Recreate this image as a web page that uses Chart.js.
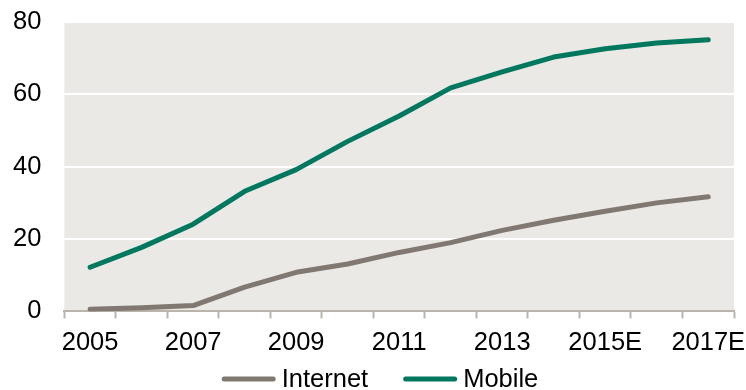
<!DOCTYPE html>
<html>
<head>
<meta charset="utf-8">
<script src="https://cdn.jsdelivr.net/npm/chart.js@4/dist/chart.umd.min.js"></script>
<style>
  html, body { margin: 0; padding: 0; background: #ffffff; }
  #wrap { width: 746px; height: 390px; position: relative; }
</style>
</head>
<body>
<div id="wrap"><canvas id="c" width="746" height="390"></canvas></div>
<script>
// Years on the x axis (estimates marked with E)
const categories = ['2005', '2006', '2007', '2008', '2009', '2010', '2011',
                    '2012', '2013', '2014', '2015E', '2016E', '2017E'];
// Only every other year gets a label
const shownLabels = ['2005', '2007', '2009', '2011', '2013', '2015E', '2017E'];
const yTicks = [0, 20, 40, 60, 80];

const internetValues = [0.6, 1.0, 1.6, 6.7, 10.8, 13.1, 16.3, 19.0, 22.4, 25.2, 27.7, 30.0, 31.7];
const mobileValues   = [12.2, 17.7, 24.1, 33.2, 39.2, 47.0, 54.0, 61.8, 66.2, 70.3, 72.6, 74.2, 75.1];

const FONT = '"Liberation Sans", Arial, sans-serif';
const FONT_SIZE = 25.5;

// Plot area background
const plotBackground = {
  id: 'plotBackground',
  beforeDraw(chart) {
    const { ctx, chartArea: a } = chart;
    ctx.save();
    ctx.fillStyle = '#ebe9e5';
    ctx.fillRect(a.left, a.top, a.right - a.left, a.bottom - a.top);
    ctx.restore();
  }
};

// Compact legend below the axis: a short thick line followed by the series name
const lineLegend = {
  id: 'lineLegend',
  afterDraw(chart) {
    const { ctx } = chart;
    const lineW = 54, textGap = 6, itemGap = 35, y = 379;
    ctx.save();
    ctx.font = FONT_SIZE + 'px ' + FONT;
    const items = chart.data.datasets.map(ds => ({
      label: ds.label, color: ds.borderColor, w: ctx.measureText(ds.label).width
    }));
    let total = 0;
    items.forEach((it, i) => { total += lineW + textGap + it.w + (i ? itemGap : 0); });
    let x = 380 - total / 2;
    items.forEach((it, i) => {
      if (i) x += itemGap;
      ctx.strokeStyle = it.color;
      ctx.lineWidth = 5;
      ctx.lineCap = 'round';
      ctx.beginPath();
      ctx.moveTo(x + 2.5, y);
      ctx.lineTo(x + lineW - 2.5, y);
      ctx.stroke();
      x += lineW + textGap;
      ctx.fillStyle = '#000000';
      ctx.textBaseline = 'middle';
      ctx.textAlign = 'left';
      ctx.fillText(it.label, x, y + 1);
      x += it.w;
    });
    ctx.restore();
  }
};

new Chart(document.getElementById('c'), {
  type: 'line',
  data: {
    labels: categories,
    datasets: [
      {
        label: 'Internet',
        data: internetValues,
        borderColor: '#807871',
        backgroundColor: '#807871',
        borderWidth: 5,
        borderCapStyle: 'round',
        borderJoinStyle: 'round',
        pointRadius: 0,
        tension: 0
      },
      {
        label: 'Mobile',
        data: mobileValues,
        borderColor: '#00785f',
        backgroundColor: '#00785f',
        borderWidth: 5,
        borderCapStyle: 'round',
        borderJoinStyle: 'round',
        pointRadius: 0,
        tension: 0
      }
    ]
  },
  options: {
    responsive: false,
    animation: false,
    devicePixelRatio: 1,
    layout: { padding: { left: -10, right: 12, top: 22, bottom: 23 } },
    plugins: {
      legend: { display: false },
      tooltip: { enabled: false }
    },
    scales: {
      x: {
        type: 'category',
        offset: true,
        // labels may run past the plot edges, so no extra side padding
        afterFit(scale) { scale.paddingLeft = 0; scale.paddingRight = 0; },
        grid: {
          offset: true,
          drawOnChartArea: false,
          drawTicks: true,
          tickLength: 7,
          tickWidth: 2,
          tickColor: '#bab4ad'
        },
        border: { display: true, color: '#bab4ad', width: 2 },
        ticks: {
          autoSkip: false,
          maxRotation: 0,
          minRotation: 0,
          padding: 9,
          color: '#000000',
          font: { family: FONT, size: FONT_SIZE },
          callback(value, index) {
            const lab = categories[index];
            return shownLabels.includes(lab) ? lab : '';
          }
        }
      },
      y: {
        min: yTicks[0],
        max: yTicks[yTicks.length - 1],
        afterBuildTicks(scale) { scale.ticks = yTicks.map(v => ({ value: v })); },
        afterFit(scale) { scale.paddingTop = 0; scale.paddingBottom = 0; },
        grid: {
          color: '#ffffff',
          lineWidth: 2,
          drawTicks: false
        },
        border: { display: false },
        ticks: {
          padding: 23,
          color: '#000000',
          font: { family: FONT, size: FONT_SIZE }
        }
      }
    }
  },
  plugins: [plotBackground, lineLegend]
});
</script>
</body>
</html>
